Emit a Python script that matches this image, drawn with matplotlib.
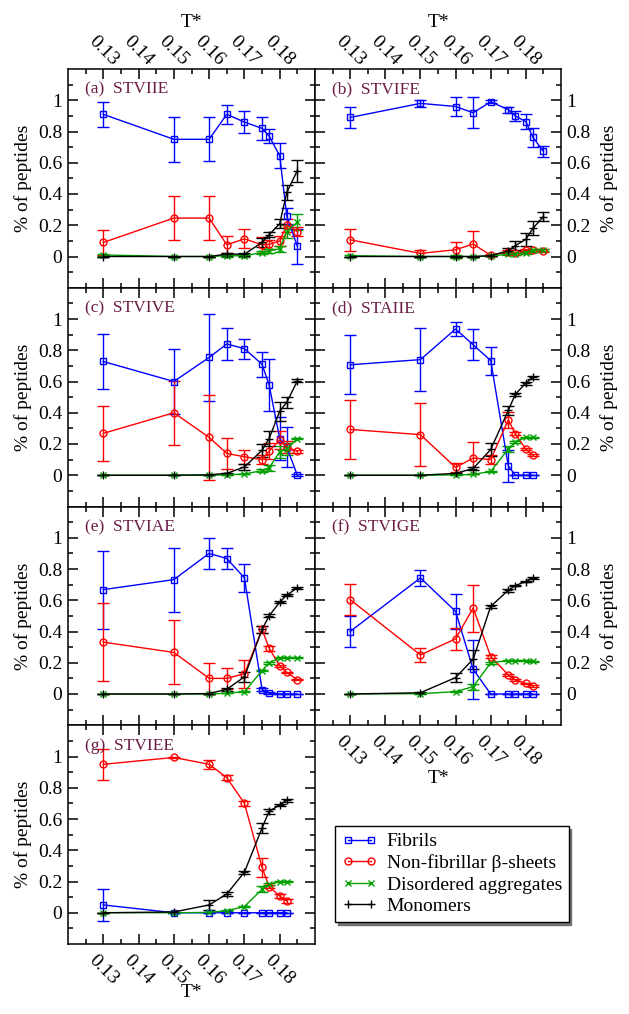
import numpy as np
import matplotlib
matplotlib.use("Agg")
import matplotlib.pyplot as plt
from matplotlib.ticker import FixedLocator
from matplotlib.lines import Line2D

plt.rcParams['font.family'] = ['Liberation Serif', 'DejaVu Serif']

W, H = 629, 1014

# temperatures
T10 = [0.13, 0.15, 0.16, 0.165, 0.17, 0.175, 0.177, 0.18, 0.182, 0.185]
T9 = T10[:9]

# (a) STVIIE
a_fib = [0.91, 0.75, 0.75, 0.91, 0.86, 0.82, 0.77, 0.645, 0.26, 0.065]
a_fib_err = [0.08, 0.145, 0.14, 0.06, 0.07, 0.075, 0.045, 0.08, 0.05, 0.11]
a_nf = [0.09, 0.246, 0.246, 0.075, 0.113, 0.075, 0.077, 0.10, 0.20, 0.16]
a_nf_err = [0.08, 0.14, 0.14, 0.055, 0.06, 0.05, 0.03, 0.03, 0.04, 0.03]
a_dis = [0.01, 0.0, 0.0, 0.005, 0.005, 0.025, 0.035, 0.05, 0.16, 0.22]
a_dis_err = [0.005, 0, 0, 0.005, 0.005, 0.01, 0.01, 0.02, 0.04, 0.05]
a_mon = [0.0, 0.0, 0.0, 0.015, 0.015, 0.09, 0.14, 0.21, 0.41, 0.55]
a_mon_err = [0, 0, 0, 0.01, 0.01, 0.03, 0.015, 0.03, 0.05, 0.07]

# (b) STVIFE
b_fib = [0.89, 0.98, 0.96, 0.92, 0.99, 0.94, 0.90, 0.863, 0.763, 0.673]
b_fib_err = [0.065, 0.02, 0.06, 0.1, 0.01, 0.02, 0.03, 0.05, 0.06, 0.035]
b_nf = [0.107, 0.02, 0.043, 0.08, 0.008, 0.03, 0.02, 0.04, 0.04, 0.037]
b_nf_err = [0.07, 0.02, 0.05, 0.085, 0.005, 0.01, 0.01, 0.01, 0.01, 0.008]
b_dis = [0.005, 0.0, 0.0, 0.0, 0.003, 0.015, 0.015, 0.025, 0.04, 0.043]
b_dis_err = [0.005, 0, 0.01, 0, 0, 0.005, 0.005, 0.01, 0.01, 0.008]
b_mon = [0.0, 0.0, 0.0, 0.0, 0.005, 0.037, 0.07, 0.11, 0.18, 0.256]
b_mon_err = [0, 0, 0, 0, 0, 0.02, 0.03, 0.04, 0.045, 0.03]

# (c) STVIVE
c_fib = [0.728, 0.60, 0.754, 0.84, 0.81, 0.71, 0.578, 0.235, 0.18, 0.0]
c_fib_err = [0.175, 0.21, 0.28, 0.1, 0.065, 0.08, 0.165, 0.14, 0.13, 0.005]
c_nf = [0.268, 0.40, 0.242, 0.14, 0.118, 0.10, 0.155, 0.225, 0.18, 0.154]
c_nf_err = [0.177, 0.205, 0.27, 0.10, 0.045, 0.03, 0.05, 0.06, 0.04, 0.01]
c_dis = [0.0, 0.0, 0.0, 0.003, 0.008, 0.03, 0.047, 0.15, 0.167, 0.235]
c_dis_err = [0, 0, 0, 0, 0.003, 0.01, 0.02, 0.04, 0.04, 0.005]
c_mon = [0.0, 0.0, 0.003, 0.012, 0.053, 0.16, 0.235, 0.41, 0.467, 0.604]
c_mon_err = [0, 0, 0, 0.005, 0.02, 0.04, 0.05, 0.06, 0.035, 0.01]

# (d) STAIIE
d_fib = [0.707, 0.74, 0.936, 0.835, 0.734, 0.06, 0.0, 0.0, 0.0]
d_fib_err = [0.19, 0.2, 0.045, 0.1, 0.09, 0.1, 0, 0, 0]
d_nf = [0.293, 0.26, 0.05, 0.11, 0.10, 0.355, 0.265, 0.167, 0.128]
d_nf_err = [0.19, 0.2, 0.03, 0.1, 0.03, 0.05, 0.01, 0.005, 0.005]
d_dis = [0.0, 0.0, 0.002, 0.005, 0.025, 0.167, 0.214, 0.242, 0.242]
d_dis_err = [0, 0, 0, 0, 0.005, 0.02, 0.005, 0.005, 0.005]
d_mon = [0.0, 0.0, 0.012, 0.043, 0.165, 0.415, 0.518, 0.59, 0.627]
d_mon_err = [0, 0, 0.005, 0.01, 0.04, 0.03, 0.01, 0.01, 0.01]

# (e) STVIAE
e_fib = [0.668, 0.732, 0.90, 0.867, 0.743, 0.028, 0.005, 0.0, 0.0, 0.0]
e_fib_err = [0.25, 0.205, 0.1, 0.065, 0.09, 0.01, 0.005, 0, 0, 0]
e_nf = [0.332, 0.266, 0.10, 0.10, 0.13, 0.413, 0.293, 0.181, 0.138, 0.092]
e_nf_err = [0.25, 0.205, 0.1, 0.065, 0.09, 0.02, 0.015, 0.005, 0.005, 0.005]
e_dis = [0, 0, 0, 0.005, 0.015, 0.15, 0.2, 0.231, 0.231, 0.231]
e_dis_err = [0, 0, 0, 0, 0.005, 0.005, 0.005, 0.003, 0.003, 0.003]
e_mon = [0, 0, 0.003, 0.03, 0.11, 0.413, 0.5, 0.588, 0.633, 0.68]
e_mon_err = [0, 0, 0, 0.01, 0.03, 0.02, 0.01, 0.005, 0.005, 0.005]

# (f) STVIGE
f_fib = [0.40, 0.743, 0.529, 0.158, 0, 0, 0, 0, 0]
f_fib_err = [0.1, 0.05, 0.11, 0.19, 0, 0, 0, 0, 0]
f_nf = [0.604, 0.25, 0.353, 0.55, 0.24, 0.122, 0.09, 0.068, 0.051]
f_nf_err = [0.1, 0.045, 0.07, 0.15, 0.01, 0.005, 0.005, 0.005, 0.005]
f_dis = [0, 0.002, 0.015, 0.047, 0.2, 0.214, 0.214, 0.214, 0.21]
f_dis_err = [0, 0, 0.003, 0.02, 0.005, 0.003, 0.003, 0.003, 0.003]
f_mon = [0, 0.008, 0.105, 0.223, 0.561, 0.664, 0.694, 0.72, 0.743]
f_mon_err = [0, 0.003, 0.03, 0.06, 0.01, 0.008, 0.005, 0.005, 0.005]

# (g) STVIEE
g_fib = [0.05, 0, 0, 0, 0, 0, 0, 0, 0]
g_fib_err = [0.105, 0, 0, 0, 0, 0, 0, 0, 0]
g_nf = [0.95, 0.994, 0.95, 0.865, 0.70, 0.29, 0.167, 0.107, 0.075]
g_nf_err = [0.1, 0.005, 0.03, 0.015, 0.015, 0.06, 0.01, 0.01, 0.01]
g_dis = [0, 0, 0.002, 0.013, 0.04, 0.15, 0.183, 0.2, 0.2]
g_dis_err = [0, 0, 0, 0.003, 0.005, 0.02, 0.008, 0.003, 0.003]
g_mon = [0, 0.005, 0.05, 0.12, 0.26, 0.543, 0.65, 0.689, 0.72]
g_mon_err = [0, 0.003, 0.03, 0.015, 0.01, 0.03, 0.015, 0.008, 0.01]

x_ticks = [0.13, 0.14, 0.15, 0.16, 0.17, 0.18]
x_ticklabels = ['0.13', '0.14', '0.15', '0.16', '0.17', '0.18']
y_ticks = [0, 0.2, 0.4, 0.6, 0.8, 1.0]
y_ticklabels = ['0', '0.2', '0.4', '0.6', '0.8', '1']
series_labels = ['Fibrils', 'Non-fibrillar β-sheets', 'Disordered aggregates', 'Monomers']

colors = ['#0000ff', '#ff0000', '#00a000', '#000000']
markers = ['s', 'o', 'x', '+']
msizes = [4.5, 5, 4, 6]
label_color = '#6b1c45'

fig = plt.figure(figsize=(W / 100, H / 100), dpi=100)


def make_ax(x0, y0, x1, y1):
    return fig.add_axes([x0 / W, 1 - y1 / H, (x1 - x0) / W, (y1 - y0) / H])


def setup(ax, side, top=False, bottom=False):
    ax.set_xlim(0.12, 0.19)
    ax.set_ylim(-0.2, 1.2)
    ax.xaxis.set_major_locator(FixedLocator(x_ticks))
    ax.xaxis.set_minor_locator(FixedLocator(np.arange(0.125, 0.19, 0.01)))
    ax.set_xticklabels(x_ticklabels)
    ax.yaxis.set_major_locator(FixedLocator(y_ticks))
    ax.yaxis.set_minor_locator(FixedLocator([-0.1, 0.1, 0.3, 0.5, 0.7, 0.9, 1.1]))
    ax.set_yticklabels(y_ticklabels)
    ax.tick_params(which='both', direction='in', top=True, bottom=True,
                   left=True, right=True, width=1.1)
    ax.tick_params(which='major', length=7)
    ax.tick_params(which='minor', length=3.5)
    ax.tick_params(axis='x', labeltop=top, labelbottom=bottom, labelrotation=-45,
                   labelsize=14, pad=(0 if top else 5.5))
    ax.tick_params(axis='y', labelleft=(side == 'left'), labelright=(side == 'right'),
                   labelsize=14, pad=4)
    for s in ax.spines.values():
        s.set_linewidth(1.1)
    ax.set_ylabel('% of peptides', fontsize=14)
    if side == 'left':
        ax.yaxis.set_label_coords(-0.145, 0.5)
    else:
        ax.yaxis.set_label_position('right')
        ax.yaxis.set_label_coords(1.16, 0.5)


def draw(ax, T, vals, errs, title):
    for v, e, c, m, ms in zip(vals, errs, colors, markers, msizes):
        ax.errorbar(T, v, yerr=e, color=c, marker=m, ms=ms, mfc='none', mec=c,
                    mew=1.0, lw=1.0, elinewidth=1.0, capsize=4, capthick=1.0)
    ax.text(0.07, 0.905, title, transform=ax.transAxes, color=label_color,
            fontsize=12.5, va='center', ha='left')


L0, L1, R1 = 68, 315, 561
rows = [69, 287.75, 506.5, 725.25, 944]

ax_a = make_ax(L0, rows[0], L1, rows[1])
setup(ax_a, 'left', top=True)
draw(ax_a, T10, [a_fib, a_nf, a_dis, a_mon], [a_fib_err, a_nf_err, a_dis_err, a_mon_err], '(a)  STVIIE')

ax_b = make_ax(L1, rows[0], R1, rows[1])
setup(ax_b, 'right', top=True)
draw(ax_b, T10, [b_fib, b_nf, b_dis, b_mon], [b_fib_err, b_nf_err, b_dis_err, b_mon_err], '(b)  STVIFE')

ax_c = make_ax(L0, rows[1], L1, rows[2])
setup(ax_c, 'left')
draw(ax_c, T10, [c_fib, c_nf, c_dis, c_mon], [c_fib_err, c_nf_err, c_dis_err, c_mon_err], '(c)  STVIVE')

ax_d = make_ax(L1, rows[1], R1, rows[2])
setup(ax_d, 'right')
draw(ax_d, T9, [d_fib, d_nf, d_dis, d_mon], [d_fib_err, d_nf_err, d_dis_err, d_mon_err], '(d)  STAIIE')

ax_e = make_ax(L0, rows[2], L1, rows[3])
setup(ax_e, 'left')
draw(ax_e, T10, [e_fib, e_nf, e_dis, e_mon], [e_fib_err, e_nf_err, e_dis_err, e_mon_err], '(e)  STVIAE')

ax_f = make_ax(L1, rows[2], R1, rows[3])
setup(ax_f, 'right', bottom=True)
draw(ax_f, T9, [f_fib, f_nf, f_dis, f_mon], [f_fib_err, f_nf_err, f_dis_err, f_mon_err], '(f)  STVIGE')

ax_g = make_ax(L0, rows[3], L1, rows[4])
setup(ax_g, 'left', bottom=True)
draw(ax_g, T9, [g_fib, g_nf, g_dis, g_mon], [g_fib_err, g_nf_err, g_dis_err, g_mon_err], '(g)  STVIEE')

# T* axis titles
for xc, yb in [(191.5, 27), (438, 27), (438, 783), (191.5, 997)]:
    fig.text(xc / W, 1 - yb / H, 'T*', fontsize=14, ha='center', va='baseline')

handles = [Line2D([0], [0], color=c, marker=m, ms=ms, mfc='none', mec=c, mew=1.0, lw=1.0)
           for c, m, ms in zip(colors, markers, msizes)]
fig.legend(handles, series_labels, loc='upper left', bbox_to_anchor=(335 / W, 1 - 826 / H),
           borderaxespad=0, fontsize=14, numpoints=2, handlelength=1.8, handletextpad=0.5,
           labelspacing=0.2, borderpad=0.35, fancybox=False, edgecolor='black',
           framealpha=1, shadow={'color': '0.45', 'alpha': 1})

fig.savefig('out.png', dpi=100)
